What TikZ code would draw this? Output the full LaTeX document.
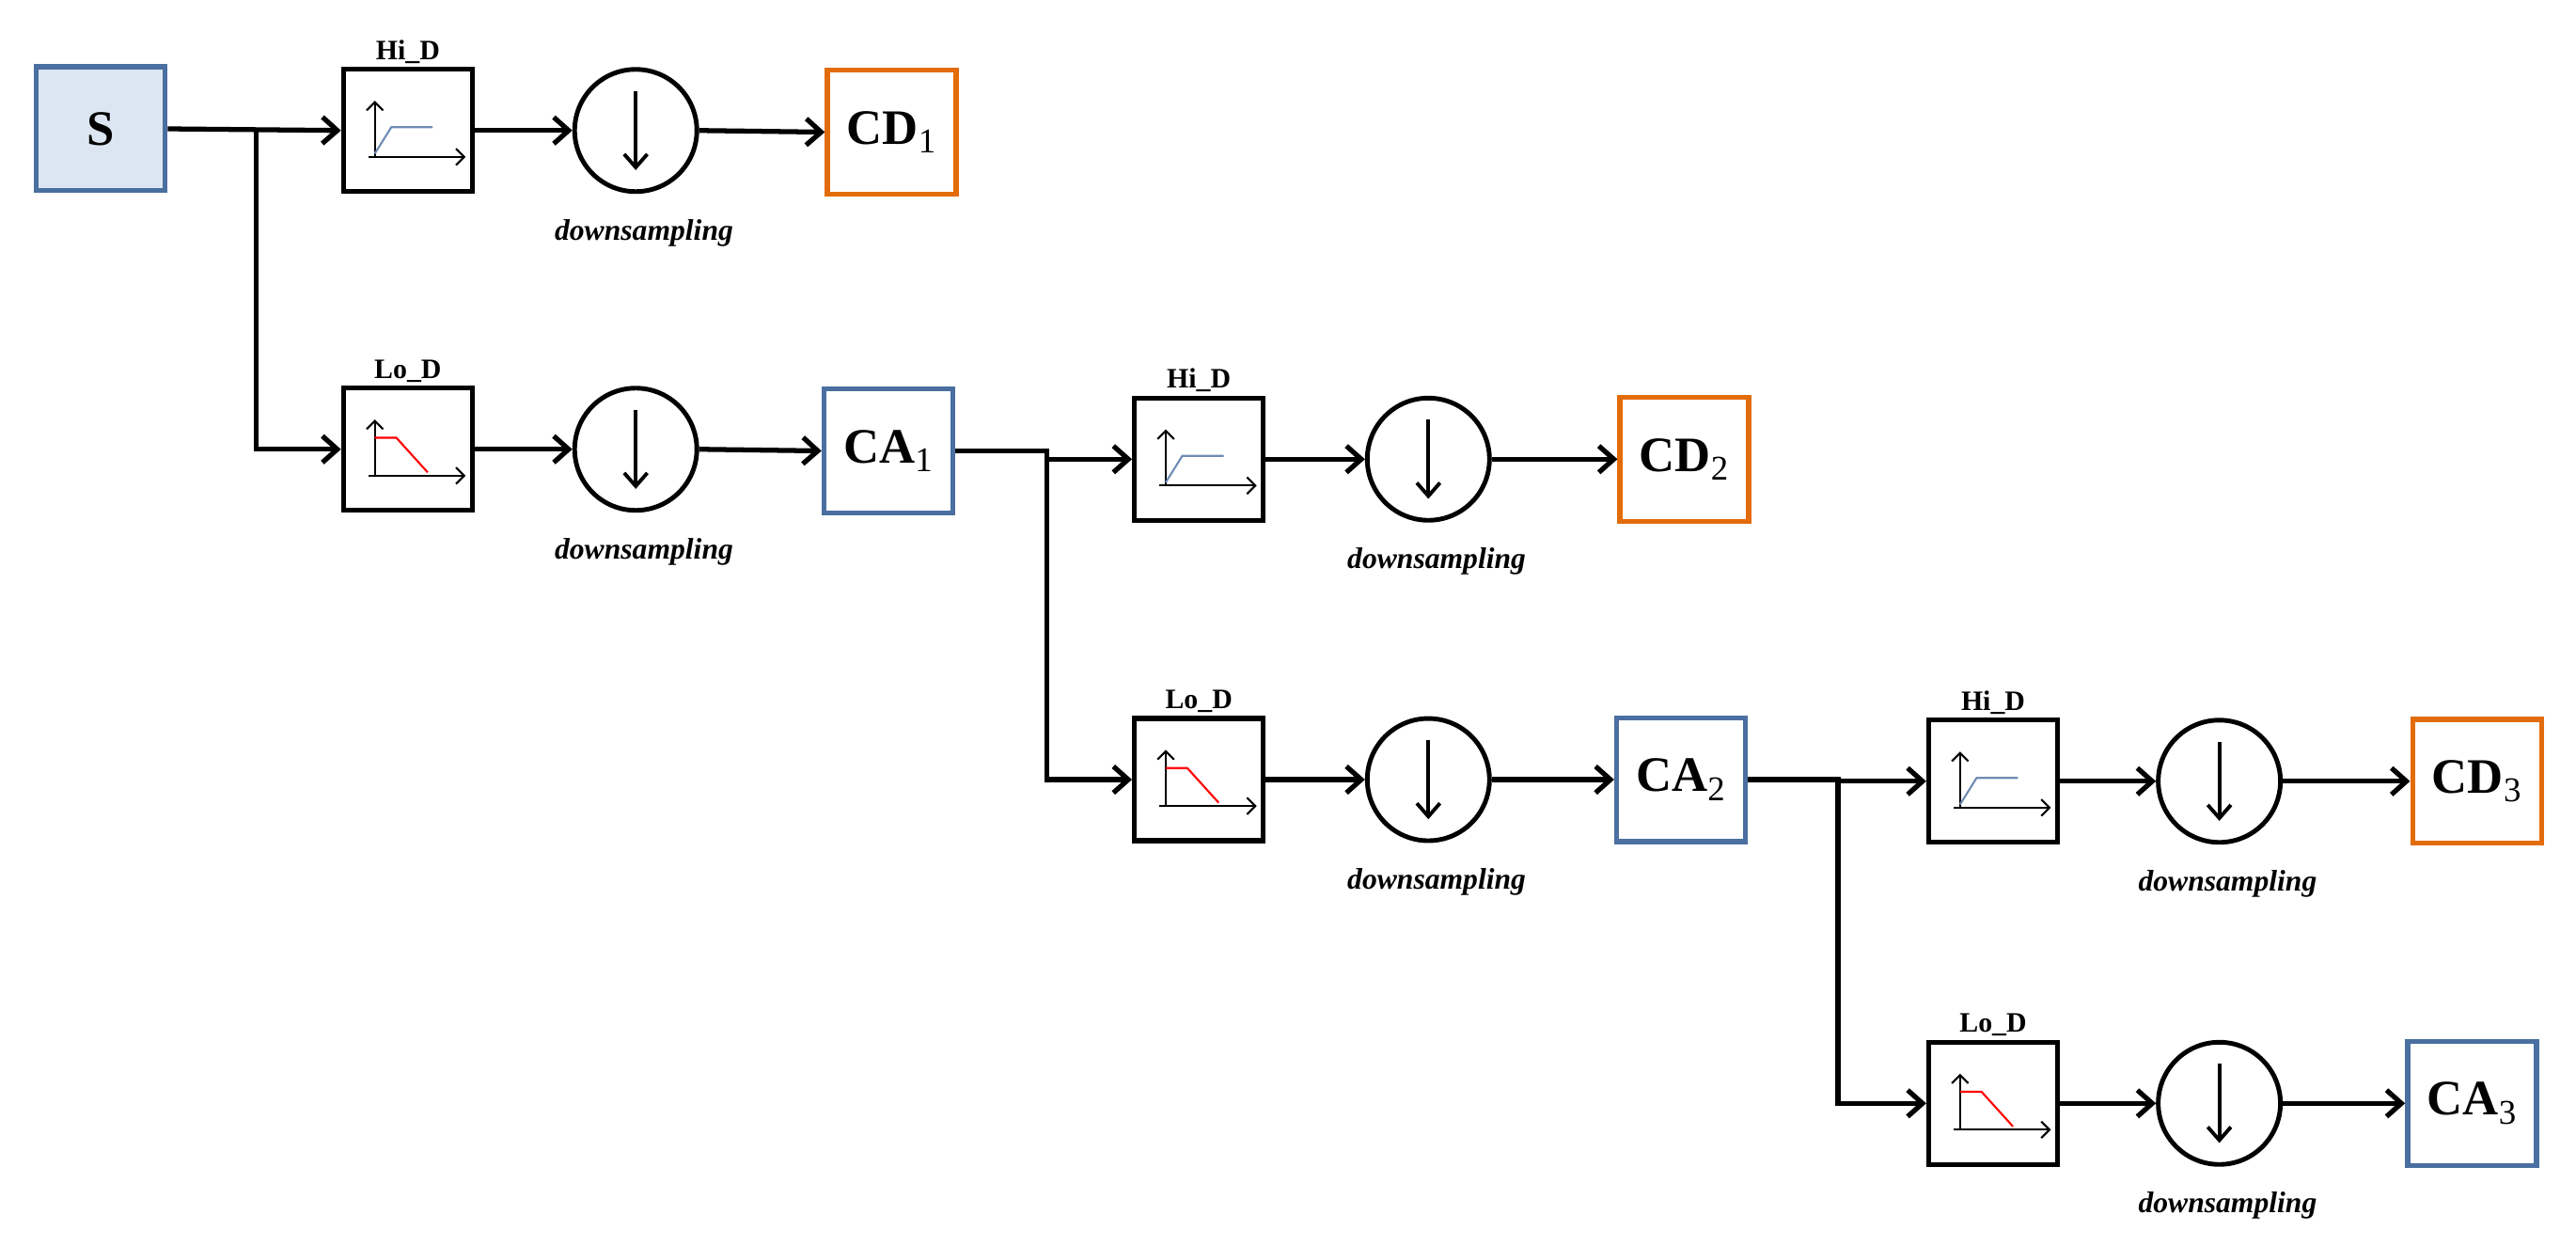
\documentclass[tikz,border=0pt]{standalone}
\usepackage{fontspec}
\setmainfont{Liberation Serif}
\usetikzlibrary{arrows.meta,calc}
\definecolor{sfill}{HTML}{DCE6F2}
\definecolor{bblue}{HTML}{4A6FA0}
\definecolor{orng}{HTML}{E36C0A}
\begin{document}
\begin{tikzpicture}[x=1pt,y=-1pt,
  box/.style={draw,line width=3pt,minimum width=78pt,minimum height=75pt,inner sep=0pt,font=\bfseries\fontsize{30}{32}\selectfont},
  filt/.style={draw,line width=3pt,minimum width=78pt,minimum height=74pt,inner sep=0pt},
  ds/.style={draw,circle,line width=2.8pt,minimum size=74pt,inner sep=0pt},
  arr/.style={line width=3pt,-{Straight Barb[length=9pt,width=16pt,line width=3pt]}},
  ax/.style={line width=1.2pt,-{Straight Barb[length=5pt,width=10pt]}},
  lbl/.style={font=\bfseries\fontsize{17}{18}\selectfont,inner sep=0pt,anchor=south},
  dlab/.style={font=\bfseries\itshape\fontsize{18}{20}\selectfont}]
\useasboundingbox (0,0) rectangle (1560,754);
\newcommand{\hiicon}[1]{%
 \draw[ax] ($(#1)+(-20,16)$) -- ($(#1)+(-20,-18)$);
 \draw[ax] ($(#1)+(-24,16)$) -- ($(#1)+(35,16)$);
 \draw[line width=1.2pt,bblue!80] ($(#1)+(-20,14)$) -- ($(#1)+(-10,-2)$) -- ($(#1)+(15,-2)$);}
\newcommand{\loicon}[1]{%
 \draw[ax] ($(#1)+(-20,16)$) -- ($(#1)+(-20,-18)$);
 \draw[ax] ($(#1)+(-24,16)$) -- ($(#1)+(35,16)$);
 \draw[line width=1.2pt,red] ($(#1)+(-20,-7)$) -- ($(#1)+(-7,-7)$) -- ($(#1)+(12,14)$);}
\newcommand{\downarr}[1]{%
 \draw[line width=2.2pt,-{Straight Barb[length=8pt,width=14pt,line width=2.2pt]}] ($(#1)+(0,-24)$) -- ($(#1)+(0,24)$);}
\node[box,fill=sfill,draw=bblue] (S) at (61,78) {S};
% level 1
\node[filt] (H1) at (247,79) {};
\node[filt] (L1) at (247,272) {};
\node[ds] (DH1) at (385,79) {};
\node[ds] (DL1) at (385,272) {};
\node[box,draw=orng] (CD1) at (540,80) {CD$_{\mathrm{1}}$};
\node[box,draw=bblue] (CA1) at (538,273) {CA$_{\mathrm{1}}$};
% level 2
\node[filt] (H2) at (726,278) {};
\node[filt] (L2) at (726,472) {};
\node[ds] (DH2) at (865,278) {};
\node[ds] (DL2) at (865,472) {};
\node[box,draw=orng] (CD2) at (1020,278) {CD$_{\mathrm{2}}$};
\node[box,draw=bblue] (CA2) at (1018,472) {CA$_{\mathrm{2}}$};
% level 3
\node[filt] (H3) at (1207,473) {};
\node[filt] (L3) at (1207,668) {};
\node[ds] (DH3) at (1344,473) {};
\node[ds] (DL3) at (1344,668) {};
\node[box,draw=orng] (CD3) at (1500,473) {CD$_{\mathrm{3}}$};
\node[box,draw=bblue] (CA3) at (1497,668) {CA$_{\mathrm{3}}$};
% icons, labels
\foreach \h/\l in {H1/L1,H2/L2,H3/L3}{
  \hiicon{\h}\loicon{\l}
  \node[lbl] (\h t) at ($(\h.north)+(0,-2)$) {Hi\_D};
  \node[lbl] (\l t) at ($(\l.north)+(0,-2)$) {Lo\_D};}
\foreach \d in {DH1,DL1,DH2,DL2,DH3,DL3}{
  \downarr{\d}
  \node[dlab] (\d t) at ($(\d)+(5,62)$) {downsampling};}
% connectors
\coordinate (j1) at (155,78);
\coordinate (j2) at (634,273);
\coordinate (j3) at (1113,472);
\draw[arr] (S.east) -- (H1.west);
\draw[arr] (j1) |- (L1.west);
\draw[arr] (CA1.east) -- (j2) -- (j2 |- H2.west) -- (H2.west);
\draw[arr] (j2) |- (L2.west);
\draw[arr] (CA2.east) -- (j3) -- (j3 |- H3.west) -- (H3.west);
\draw[arr] (j3) |- (L3.west);
\foreach \a/\b/\c in {H1/DH1/CD1,L1/DL1/CA1,H2/DH2/CD2,L2/DL2/CA2,H3/DH3/CD3,L3/DL3/CA3}{
  \draw[arr] (\a.east) -- (\b.west);
  \draw[arr] (\b.east) -- (\c.west);}
\end{tikzpicture}
\end{document}
